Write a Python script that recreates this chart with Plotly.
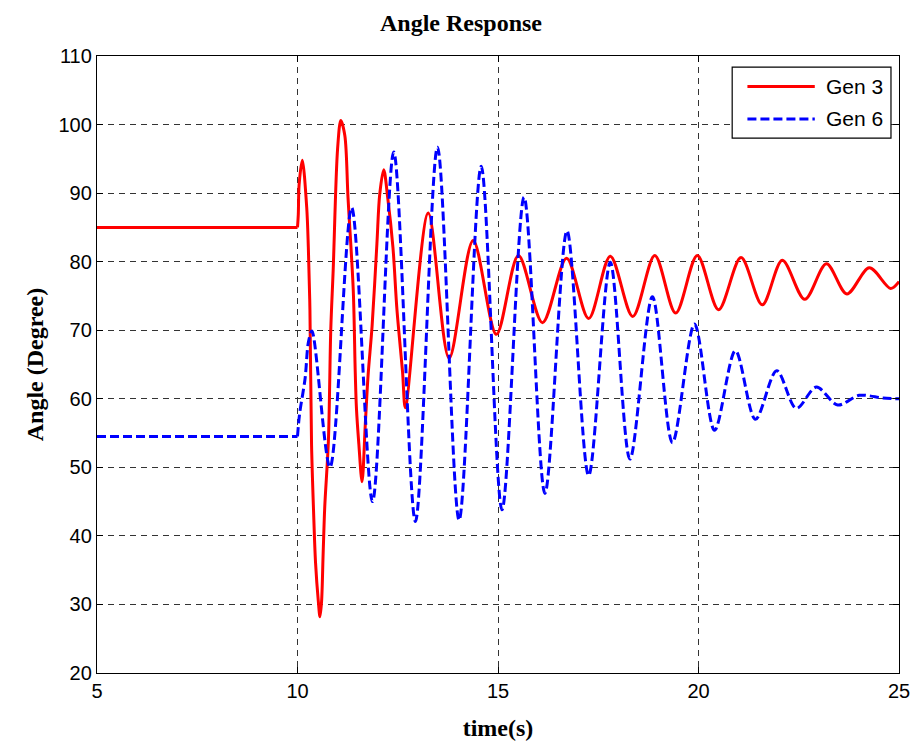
import plotly.graph_objects as go

# Pre-fault steady state (t < 10 s)
pre_t = [5.0, 10.0]
gen3_pre = [85.0, 85.0]
gen6_pre = [54.5, 54.5]

# Gen 3 rotor angle (degrees) after the disturbance
gen3_t = [10.0, 10.02, 10.04, 10.12, 10.23, 10.27, 10.31, 10.35, 10.40, 10.45, 10.52, 10.56,
          10.60, 10.64, 10.68, 10.77, 10.83, 10.89, 11.0, 11.08, 11.18, 11.26, 11.39, 11.44,
          11.47, 11.53, 11.61, 11.69, 11.76, 11.86, 11.98, 12.05, 12.15, 12.25, 12.38, 12.48,
          12.62, 12.69, 13.26, 13.78, 14.38, 14.96, 15.51, 16.11, 16.71, 17.26, 17.80, 18.36,
          18.91, 19.43, 19.97, 20.50, 21.06, 21.59, 22.09, 22.65, 23.19, 23.70, 24.26, 24.79, 25.0]
gen3_v = [85.0, 86.9, 91.2, 94.8, 87.9, 82.1, 73.0, 53.4, 43.7, 36.1, 30.4, 28.2,
          30.4, 37.5, 44.3, 53.8, 70.1, 78.8, 96.5, 100.6, 98.4, 89.3, 75.9, 63.9,
          58.6, 53.4, 47.9, 56.2, 63.4, 70.6, 82.6, 89.8, 93.4, 89.3, 82.1, 73.0,
          63.9, 58.7, 87.1, 65.9, 83.1, 69.4, 80.9, 71.1, 80.5, 71.7, 80.8, 72.0,
          80.9, 72.5, 80.9, 73.0, 80.6, 73.7, 80.2, 74.5, 79.7, 75.3, 79.1, 76.1, 77.1]

# Gen 6 rotor angle (degrees) after the disturbance
gen6_t = [10.0, 10.05, 10.19, 10.27, 10.36, 10.81, 11.35, 11.87, 12.40, 12.94, 13.49, 14.03,
          14.58, 15.10, 15.65, 16.17, 16.72, 17.26, 17.80, 18.29, 18.85, 19.35, 19.90, 20.40,
          20.92, 21.42, 21.95, 22.44, 22.94, 23.47, 24.01, 24.60, 25.0]
gen6_v = [54.5, 57.7, 63.0, 68.2, 69.9, 50.0, 87.9, 45.0, 96.0, 42.1, 96.7, 42.3,
          93.9, 43.8, 89.4, 46.2, 84.5, 48.8, 79.9, 51.2, 74.9, 53.6, 70.9, 55.4,
          67.0, 57.0, 64.1, 58.6, 61.7, 59.1, 60.5, 60.1, 60.0]

series_names = ["Gen 3", "Gen 6"]
x_ticks = [5, 10, 15, 20, 25]
y_ticks = [20, 30, 40, 50, 60, 70, 80, 90, 100, 110]

RED = "#ff0000"
BLUE = "#0000ff"
BLUE_DASH = "9px,4px"

fig = go.Figure()
fig.add_trace(go.Scatter(x=pre_t, y=gen3_pre, mode="lines", showlegend=False,
                         line=dict(color=RED, width=3)))
fig.add_trace(go.Scatter(x=pre_t, y=gen6_pre, mode="lines", showlegend=False,
                         line=dict(color=BLUE, width=3, dash=BLUE_DASH)))
fig.add_trace(go.Scatter(
    x=gen3_t, y=gen3_v, mode="lines", name=series_names[0], showlegend=False,
    line=dict(color=RED, width=3, shape="spline", smoothing=0.9),
))
fig.add_trace(go.Scatter(
    x=gen6_t, y=gen6_v, mode="lines", name=series_names[1], showlegend=False,
    line=dict(color=BLUE, width=3, dash=BLUE_DASH, shape="spline", smoothing=0.9),
))

tick_font = dict(family="Liberation Sans, Arial, sans-serif", size=20, color="#000000")
serif_bold = dict(family="Liberation Serif, Times New Roman, serif", size=24, color="#000000")

axis_common = dict(
    showline=True, linecolor="#000000", linewidth=1.3, mirror="ticks",
    ticks="inside", ticklen=6, tickcolor="#000000", tickwidth=1,
    showgrid=True, gridcolor="#333333", gridwidth=1, griddash="6px,5px",
    zeroline=False, tickfont=tick_font,
)

# Boxed legend in the upper-right corner (axes-domain coordinates)
legend_box = dict(x0=0.792, x1=0.99, y0=0.867, y1=0.982)
legend_rows = [(0.9505, RED, "solid"), (0.898, BLUE, BLUE_DASH)]
shapes = [dict(type="rect", xref="x domain", yref="y domain", **legend_box,
               line=dict(color="#000000", width=1.2), fillcolor="#ffffff", layer="above")]
annotations = []
for name, (ly, col, dsh) in zip(series_names, legend_rows):
    shapes.append(dict(type="line", xref="x domain", yref="y domain",
                       x0=0.811, x1=0.895, y0=ly, y1=ly, layer="above",
                       line=dict(color=col, width=3, dash=dsh)))
    annotations.append(dict(xref="x domain", yref="y domain", x=0.906, y=ly,
                            xanchor="left", yanchor="middle", showarrow=False,
                            text=name, font=dict(family="Liberation Sans, Arial, sans-serif",
                                                 size=21, color="#000000")))

fig.update_layout(
    width=922, height=749,
    margin=dict(l=97, r=16, t=56, b=67),
    paper_bgcolor="#ffffff", plot_bgcolor="#ffffff",
    title=dict(text="<b>Angle Response</b>", x=0.5, xanchor="center", y=0.97, yanchor="middle",
               font=serif_bold),
    xaxis=dict(range=[5, 25], tickvals=x_ticks, ticktext=[str(v) for v in x_ticks],
               title=dict(text="<b>time(s)</b>", font=serif_bold, standoff=18), **axis_common),
    yaxis=dict(range=[20, 110], tickvals=y_ticks, ticktext=[str(v) for v in y_ticks],
               title=dict(text="<b>Angle (Degree)</b>", font=serif_bold, standoff=8), **axis_common),
    shapes=shapes,
    annotations=annotations,
    showlegend=False,
)

fig.write_html("out.html")
